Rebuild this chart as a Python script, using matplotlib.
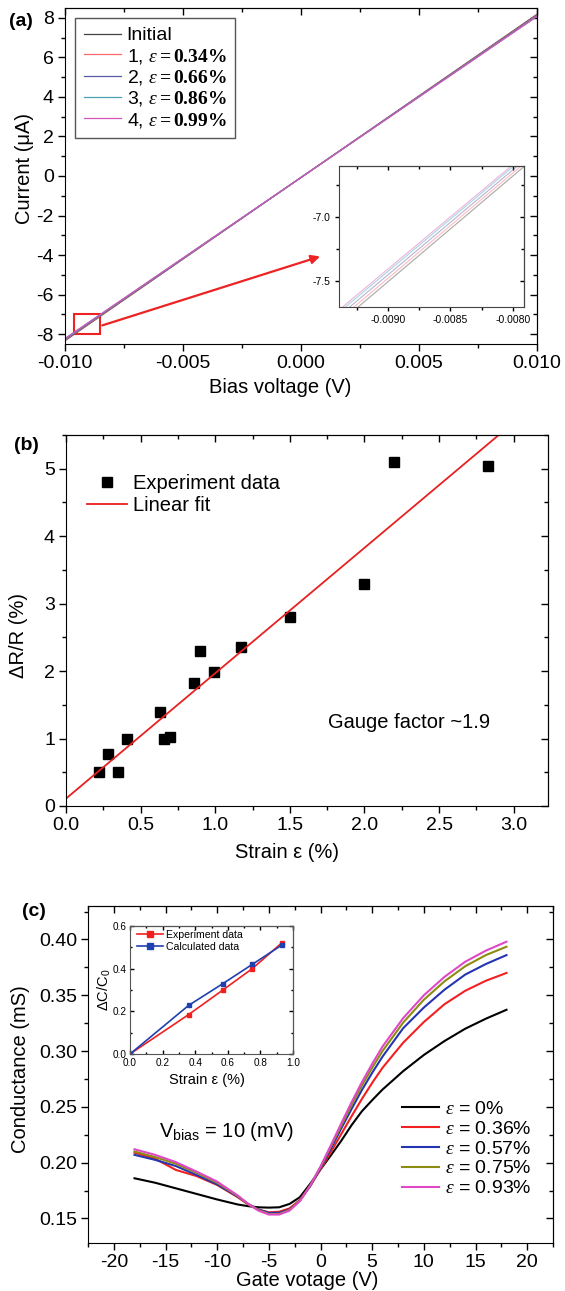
import matplotlib
matplotlib.use("Agg")
import matplotlib.pyplot as plt
from matplotlib.ticker import MultipleLocator, FormatStrFormatter
from matplotlib.patches import Rectangle

plt.rcParams.update({
    "font.family": ["Liberation Sans", "DejaVu Sans"],
    "axes.unicode_minus": False,
    "mathtext.fontset": "custom",
    "mathtext.rm": "Liberation Sans",
    "mathtext.sf": "Liberation Sans",
    "mathtext.it": "Liberation Serif:italic",
    "mathtext.bf": "Liberation Serif:bold",
})

# (a) I-V curves
bias_v = [-0.010, 0.010]
iv_labels = ["Initial",
             r"1, $\varepsilon\mathbf{= 0.34\%}$",
             r"2, $\varepsilon\mathbf{= 0.66\%}$",
             r"3, $\varepsilon\mathbf{= 0.86\%}$",
             r"4, $\varepsilon\mathbf{= 0.99\%}$"]
iv_currents = [[-8.33, 8.18],
               [-8.30, 8.15],
               [-8.27, 8.12],
               [-8.24, 8.09],
               [-8.22, 8.07]]
iv_colors = ["#404040", "#ff6868", "#5a5aa8", "#4aa0b4", "#d455b8"]
zoom_box = [-0.0096, -8.0, 0.00107, 1.0]
arrow_from = [-0.00853, -7.6]
arrow_to = [0.00092, -4.03]

# (b) gauge factor
strain_b = [0.22, 0.28, 0.35, 0.41, 0.63, 0.66, 0.70, 0.86, 0.90, 0.99, 1.17, 1.50, 2.00, 2.20, 2.83]
dr_r = [0.50, 0.77, 0.50, 1.00, 1.40, 0.99, 1.02, 1.82, 2.30, 1.98, 2.35, 2.80, 3.29, 5.10, 5.04]
fit_x = [0.0, 2.90]
fit_y = [0.11, 5.50]

# (c) transfer curves
gate_v = [-18, -16, -14, -12, -10, -8, -7, -6, -5, -4, -3, -2, -1, 0, 1, 2, 3, 4, 5, 6, 8, 10, 12, 14, 16, 18]
g_labels = [r"$\varepsilon$ = 0%", r"$\varepsilon$ = 0.36%", r"$\varepsilon$ = 0.57%",
            r"$\varepsilon$ = 0.75%", r"$\varepsilon$ = 0.93%"]
g_colors = ["#000000", "#f22020", "#2535b0", "#8c8c10", "#e048c8"]
g_0 = [.186, .182, .177, .172, .167, .1625, .161, .160, .1597, .160, .163, .169, .181, .194,
       .2065, .2195, .2335, .246, .256, .2655, .282, .2965, .309, .320, .329, .337]
g_36 = [.209, .2035, .1935, .188, .180, .169, .1625, .158, .1555, .156, .159, .1665, .179, .194,
        .2095, .2255, .2415, .257, .2715, .285, .3075, .326, .342, .354, .363, .370]
g_57 = [.207, .2025, .197, .189, .1805, .1695, .163, .158, .155, .155, .158, .166, .179, .195,
        .2125, .2305, .248, .265, .2805, .295, .3205, .339, .355, .3685, .378, .386]
g_75 = [.210, .205, .199, .191, .182, .170, .163, .1575, .154, .154, .1575, .166, .1795, .196,
        .2145, .233, .2515, .269, .285, .300, .3255, .346, .3625, .376, .386, .3935]
g_93 = [.212, .207, .2005, .192, .183, .1705, .163, .157, .1535, .1535, .157, .1655, .1795, .1965,
        .2155, .235, .254, .272, .2885, .304, .3295, .350, .3665, .380, .390, .398]

# (c) inset
in_strain = [0.0, 0.36, 0.57, 0.75, 0.93]
dc_exp = [0.0, 0.185, 0.30, 0.40, 0.52]
dc_calc = [0.0, 0.228, 0.33, 0.42, 0.51]

W, H = 565, 1291


def rect(l, t, r, b):
    return [l / W, 1 - b / H, (r - l) / W, (b - t) / H]


def frame(ax, xmaj, xmin, ymaj, ymin, lab=14, maj=5, mnr=3, out=True):
    ax.xaxis.set_major_locator(MultipleLocator(xmaj))
    ax.xaxis.set_minor_locator(MultipleLocator(xmin))
    ax.yaxis.set_major_locator(MultipleLocator(ymaj))
    ax.yaxis.set_minor_locator(MultipleLocator(ymin))
    ax.tick_params(which="both", direction="out" if out else "in", top=False, right=False,
                   labelsize=lab, width=1, pad=3)
    ax.tick_params(which="major", length=maj)
    ax.tick_params(which="minor", length=mnr)
    top = ax.secondary_xaxis("top")
    top.xaxis.set_major_locator(MultipleLocator(xmaj))
    top.xaxis.set_minor_locator(MultipleLocator(xmin))
    top.tick_params(which="both", direction="in", labeltop=False, width=1)
    top.tick_params(which="major", length=maj)
    top.tick_params(which="minor", length=mnr)
    rgt = ax.secondary_yaxis("right")
    rgt.yaxis.set_major_locator(MultipleLocator(ymaj))
    rgt.yaxis.set_minor_locator(MultipleLocator(ymin))
    rgt.tick_params(which="both", direction="in", labelright=False, width=1)
    rgt.tick_params(which="major", length=maj)
    rgt.tick_params(which="minor", length=mnr)


fig = plt.figure(figsize=(W / 100, H / 100), dpi=100)

# ---------------- (a)
ax1 = fig.add_axes(rect(65, 8, 537, 344))
for cur, lab, col in zip(iv_currents, iv_labels, iv_colors):
    ax1.plot(bias_v, cur, color=col, lw=0.9, label=lab)
ax1.set_xlim(-0.010, 0.010)
ax1.set_ylim(-8.5, 8.5)
frame(ax1, 0.005, 0.0025, 2, 1)
ax1.xaxis.set_major_formatter(FormatStrFormatter("%.3f"))
ax1.add_patch(Rectangle(zoom_box[:2], zoom_box[2], zoom_box[3], fill=False, ec="#ee2222", lw=1.5))
ax1.annotate("", xy=arrow_to, xytext=arrow_from,
             arrowprops=dict(arrowstyle="-|>", color="#ee2222", lw=1.6, mutation_scale=13))
leg = ax1.legend(loc="upper left", bbox_to_anchor=(75 / W, 1 - 18 / H), bbox_transform=fig.transFigure,
                 borderaxespad=0, borderpad=0.45, fontsize=14, handlelength=1.9, handletextpad=0.3,
                 labelspacing=0.12, fancybox=False, edgecolor="#555555", framealpha=1)
leg.get_frame().set_linewidth(1)

ins1 = fig.add_axes(rect(339, 166, 524, 307))
for cur, col in zip(iv_currents, iv_colors):
    ins1.plot(bias_v, cur, color=col, lw=0.8, alpha=0.45)
ins1.set_xlim(-0.00939, -0.00791)
ins1.set_ylim(-7.7, -6.6)
frame(ins1, 0.0005, 0.00025, 0.5, 0.25, lab=7.5, maj=3, mnr=2)
ins1.xaxis.set_major_formatter(FormatStrFormatter("%.4f"))
ins1.yaxis.set_major_formatter(FormatStrFormatter("%.1f"))
for s in ins1.spines.values():
    s.set_color("#444444")

fig.text(21 / W, 1 - 22 / H, "(a)", fontsize=14, fontweight="bold", ha="center", va="center")
fig.text(24 / W, 1 - 168 / H, "Current (\u03bcA)", fontsize=14.5, rotation=90, ha="center", va="center")
fig.text(280 / W, 1 - 387 / H, "Bias voltage (V)", fontsize=14.5, ha="center", va="center")

# ---------------- (b)
ax2 = fig.add_axes(rect(66, 435, 548, 806))
ax2.plot(strain_b, dr_r, "s", color="black", ms=6.5, label="Experiment data")
ax2.plot(fit_x, fit_y, "-", color="#e82020", lw=1.3, label="Linear fit")
ax2.set_xlim(0, 3.23)
ax2.set_ylim(0, 5.5)
frame(ax2, 0.5, 0.25, 1, 0.5)
ax2.xaxis.set_major_formatter(FormatStrFormatter("%.1f"))
ax2.legend(loc="upper left", bbox_to_anchor=(87 / W, 1 - 474 / H), bbox_transform=fig.transFigure,
           borderaxespad=0, borderpad=0, frameon=False, fontsize=14.5, handlelength=2.0,
           handletextpad=0.3, labelspacing=0.15)
fig.text(328 / W, 1 - 722 / H, "Gauge factor ~1.9", fontsize=14.5, ha="left", va="center")
fig.text(26 / W, 1 - 445 / H, "(b)", fontsize=14, fontweight="bold", ha="center", va="center")
fig.text(18 / W, 1 - 636 / H, "\u0394R/R (%)", fontsize=14.5, rotation=90, ha="center", va="center")
fig.text(287 / W, 1 - 853 / H, "Strain \u03b5 (%)", fontsize=14.5, ha="center", va="center")

# ---------------- (c)
ax3 = fig.add_axes(rect(88, 906, 553, 1243))
for ys, lab, col in zip([g_0, g_36, g_57, g_75, g_93], g_labels, g_colors):
    ax3.plot(gate_v, ys, color=col, lw=1.5, label=lab)
ax3.set_xlim(-22.5, 22.5)
ax3.set_ylim(0.128, 0.43)
frame(ax3, 5, 2.5, 0.05, 0.025)
ax3.yaxis.set_major_formatter(FormatStrFormatter("%.2f"))
ax3.legend(loc="upper left", bbox_to_anchor=(402 / W, 1 - 1100 / H), bbox_transform=fig.transFigure,
           borderaxespad=0, borderpad=0, frameon=False, fontsize=14, handlelength=1.9,
           handletextpad=0.3, labelspacing=0.12)
fig.text(159 / W, 1 - 1137 / H, r"V$_{\mathrm{bias}}$ = 10 (mV)", fontsize=14.5, ha="left", va="baseline")
fig.text(34 / W, 1 - 912 / H, "(c)", fontsize=14, fontweight="bold", ha="center", va="center")
fig.text(21 / W, 1 - 1069 / H, "Conductance (mS)", fontsize=14.5, rotation=90, ha="center", va="center")
fig.text(307 / W, 1 - 1280 / H, "Gate votage (V)", fontsize=14.5, ha="center", va="center")

ins3 = fig.add_axes(rect(130, 926, 293, 1054))
ins3.plot(in_strain, dc_exp, "-s", color="#f02020", lw=1.2, ms=3.5, label="Experiment data")
ins3.plot(in_strain, dc_calc, "-s", color="#2040b0", lw=1.2, ms=3.5, label="Calculated data")
ins3.set_xlim(0, 1.0)
ins3.set_ylim(0, 0.6)
frame(ins3, 0.2, 0.1, 0.2, 0.1, lab=7.2, maj=3, mnr=1.5, out=False)
ins3.xaxis.set_major_formatter(FormatStrFormatter("%.1f"))
ins3.yaxis.set_major_formatter(FormatStrFormatter("%.1f"))
ins3.tick_params(axis="x", pad=3)
ins3.tick_params(axis="y", pad=2.5)
for s in ins3.spines.values():
    s.set_color("#555555")
ins3.legend(loc="upper left", bbox_to_anchor=(137 / W, 1 - 930 / H), bbox_transform=fig.transFigure,
            borderaxespad=0, borderpad=0, frameon=False, fontsize=7.6, handlelength=2.5,
            handletextpad=0.2, labelspacing=0.2, markerscale=1.4)
fig.text(104 / W, 1 - 990 / H, r"$\Delta$C/C$_0$", fontsize=10.5, rotation=90, ha="center", va="center")
fig.text(207 / W, 1 - 1080 / H, "Strain \u03b5 (%)", fontsize=10.5, ha="center", va="center")

fig.savefig("out.png", dpi=100)
